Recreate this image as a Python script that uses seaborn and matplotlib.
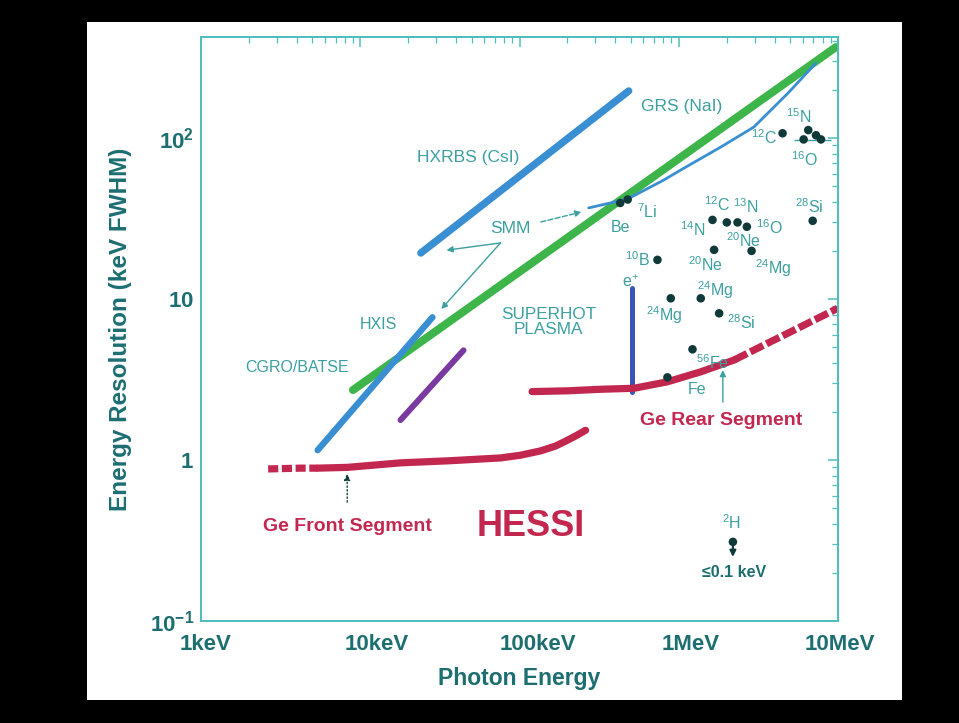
import matplotlib
matplotlib.use("Agg")
import matplotlib.pyplot as plt
from matplotlib.patches import Rectangle
from matplotlib.transforms import ScaledTranslation
import seaborn as sns
import pandas as pd

# ---------------- data (photon energy in keV, resolution in keV FWHM) ----------------
hxrbs_e = [24, 485]
hxrbs_r = [19.3, 196]
batse_e = [9.0, 9700]
batse_r = [2.72, 367]
hxis_e = [5.4, 28.4]
hxis_r = [1.15, 7.7]
purple_e = [17.9, 44.5]
purple_r = [1.77, 4.8]
grs_e = [272, 478, 805, 1030, 1837, 2964, 4850, 7270]
grs_r = [36.8, 41.8, 54.8, 63.3, 87.9, 117, 190, 292]
front_e = [2.64, 4.2, 5.4, 8.3, 17.9, 36.8, 76, 101, 136, 168, 195, 225, 260]
front_r = [0.88, 0.89, 0.89, 0.90, 0.96, 0.99, 1.03, 1.07, 1.14, 1.22, 1.31, 1.41, 1.53]
front_dash_end = 5.4
rear_e = [120, 200, 323, 524, 849, 1375, 2228, 3612, 5853, 9950]
rear_r = [2.66, 2.69, 2.75, 2.79, 3.06, 3.53, 4.18, 5.31, 6.73, 8.75]
rear_dash_start = 2228
annih_e = [511, 511]
annih_r = [2.64, 11.7]

nuc_e = [429, 478, 735, 891, 1375, 1793, 1220, 849, 1629, 2004, 2339, 2677,
         1667, 2866, 6934, 4487, 6505, 7275, 7816, 6085, 2188]
nuc_r = [39.5, 41.5, 17.5, 10.1, 10.1, 8.15, 4.87, 3.26, 31.0, 29.9, 29.9, 28.1,
         20.2, 19.9, 30.6, 107, 112, 104, 98, 98, 0.31]

nuc_labels = [r"$^{7}$Li", "Be", r"$^{10}$B", r"e$^{+}$", r"$^{14}$N", r"$^{12}$C",
              r"$^{13}$N", r"$^{16}$O", r"$^{20}$Ne", r"$^{20}$Ne", r"$^{24}$Mg",
              r"$^{24}$Mg", r"$^{24}$Mg", r"$^{28}$Si", r"$^{56}$Fe", "Fe",
              r"$^{28}$Si", r"$^{12}$C", r"$^{15}$N", r"$^{16}$O", r"$^{2}$H"]
nuc_lab_e = [638, 432, 552, 499, 1225, 1734, 2637, 3681, 2564, 1479, 3900,
             1684, 805, 2455, 1636, 1298, 6574, 3426, 5690, 6110, 2154]
nuc_lab_r = [34.7, 28.0, 17.5, 12.8, 26.8, 38.4, 37.2, 27.6, 23.2, 16.3, 15.6,
             11.4, 7.96, 7.1, 4.0, 2.76, 37.2, 101, 135, 72.9, 0.406]

x_ticks = [1, 10, 100, 1000, 10000]
x_ticklabels = ["1keV", "10keV", "100keV", "1MeV", "10MeV"]
x_label_shift_px = [5, 17, 18, 12, 2]
y_ticks = [0.1, 1, 10, 100]
y_ticklabels = [r"$\mathbf{10^{-1}}$", r"$\mathbf{1}$", r"$\mathbf{10}$", r"$\mathbf{10^{2}}$"]

# ---------------- style ----------------
sns.set_theme(style="white")
plt.rcParams["font.family"] = ["Liberation Sans", "DejaVu Sans"]
plt.rcParams["mathtext.fontset"] = "custom"
plt.rcParams["mathtext.rm"] = "Liberation Sans"
plt.rcParams["mathtext.it"] = "Liberation Sans:italic"
plt.rcParams["mathtext.bf"] = "Liberation Sans:bold"

SPINE = "#4dbdbd"
TEAL_DARK = "#1c6e70"
TEAL = "#3c9fa0"
BLUE = "#3a8fd3"
GREEN = "#3db54b"
PURPLE = "#7a3a9f"
RED = "#c2284f"
INDIGO = "#3b55b5"
DOT = "#103a3a"

fig = plt.figure(figsize=(9.59, 7.23), dpi=100, facecolor="black")
fig.patches.append(Rectangle((87 / 959, 1 - 700 / 723), (902 - 87) / 959, (700 - 22) / 723,
                             transform=fig.transFigure, facecolor="white",
                             edgecolor="none", zorder=-10))
ax = fig.add_axes([201 / 959, 1 - 621 / 723, (838 - 201) / 959, (621 - 37) / 723])
ax.set_zorder(5)
ax.set_facecolor("white")
ax.set_xscale("log")
ax.set_yscale("log")


def line(e, r, color, lw, **kw):
    df = pd.DataFrame({"e": e, "r": r})
    sns.lineplot(data=df, x="e", y="r", ax=ax, color=color, lw=lw, sort=False,
                 estimator=None, solid_capstyle="round", solid_joinstyle="round",
                 dash_capstyle="butt", **kw)


line(hxrbs_e, hxrbs_r, BLUE, 5.3)
line(batse_e, batse_r, GREEN, 5.8)
line(hxis_e, hxis_r, BLUE, 4.6)
line(purple_e, purple_r, PURPLE, 4.3)
line(grs_e, grs_r, BLUE, 2.0)
line(annih_e, annih_r, INDIGO, 3.6)

# Ge front segment: dashed low-energy part, solid above
fd = [(e, r) for e, r in zip(front_e, front_r) if e <= front_dash_end]
fs = [(e, r) for e, r in zip(front_e, front_r) if e >= front_dash_end]
line([p[0] for p in fd], [p[1] for p in fd], RED, 5.2, linestyle=(0, (1.4, 0.5)))
line([p[0] for p in fs], [p[1] for p in fs], RED, 5.2)
# Ge rear segment: solid, dashed at high energy
rs = [(e, r) for e, r in zip(rear_e, rear_r) if e <= rear_dash_start]
rd = [(e, r) for e, r in zip(rear_e, rear_r) if e >= rear_dash_start]
line([p[0] for p in rs], [p[1] for p in rs], RED, 5.2)
line([p[0] for p in rd], [p[1] for p in rd], RED, 5.2, linestyle=(0, (2.0, 0.5)))

sns.scatterplot(x=nuc_e, y=nuc_r, ax=ax, color=DOT, s=38, edgecolor="none", zorder=5)

ax.set_xlim(1, 10000)
ax.set_ylim(0.1, 424)

# ---------------- annotations ----------------
for t, x, y in zip(nuc_labels, nuc_lab_e, nuc_lab_r):
    ax.text(x, y, t, color=TEAL, fontsize=11.5, ha="center", va="center", zorder=6)

ax.text(22.8, 75.2, "HXRBS (CsI)", color=TEAL, fontsize=12.5, ha="left", va="center")
ax.text(577, 156, "GRS (NaI)", color=TEAL, fontsize=12.5, ha="left", va="center")
ax.text(87.8, 27.6, "SMM", color=TEAL, fontsize=12.5, ha="center", va="center")
ax.text(152, 7.2, "SUPERHOT\nPLASMA", color=TEAL, fontsize=12.3, ha="center",
        va="center", linespacing=1.05)
ax.text(13.0, 6.9, "HXIS", color=TEAL, fontsize=11.5, ha="center", va="center")
ax.text(4.02, 3.73, "CGRO/BATSE", color=TEAL, fontsize=11.5, ha="center", va="center")
ax.text(8.28, 0.389, "Ge Front Segment", color=RED, fontsize=14, fontweight="bold",
        ha="center", va="center")
ax.text(117, 0.384, "HESSI", color=RED, fontsize=26, fontweight="bold",
        ha="center", va="center")
ax.text(1837, 1.77, "Ge Rear Segment", color=RED, fontsize=14, fontweight="bold",
        ha="center", va="center")
ax.text(2218, 0.199, "\u22640.1 keV", color=TEAL_DARK, fontsize=11.5,
        fontweight="bold", ha="center", va="center")

arrow = dict(arrowstyle="-|>", color=TEAL, lw=1.0, mutation_scale=9, shrinkA=0, shrinkB=0)
ax.annotate("", xy=(34.8, 20.1), xytext=(76, 22.3), arrowprops=arrow)
ax.annotate("", xy=(32.3, 8.67), xytext=(76, 22.3), arrowprops=arrow)
ax.annotate("", xy=(245, 34.7), xytext=(136, 30.1), arrowprops=dict(arrow, linestyle="--"))
ax.annotate("", xy=(8.28, 0.82), xytext=(8.28, 0.548),
            arrowprops=dict(arrow, color=DOT, linestyle=":"))
ax.annotate("", xy=(1892, 3.62), xytext=(1892, 2.29), arrowprops=arrow)
ax.annotate("", xy=(2188, 0.25), xytext=(2188, 0.31),
            arrowprops=dict(arrow, color=DOT, lw=1.5))
ax.hlines(97, 5290, 9040, color=TEAL, lw=1.0)

# ---------------- axes styling ----------------
for s in ax.spines.values():
    s.set_color(SPINE)
    s.set_linewidth(1.4)
ax.tick_params(which="both", direction="in", top=True, right=True, color=SPINE,
               labelcolor=TEAL_DARK)
ax.tick_params(which="major", length=7, width=1.1)
ax.tick_params(which="minor", length=4, width=0.9)
ax.tick_params(axis="x", which="major", pad=9)
ax.tick_params(axis="y", which="major", pad=5)
ax.set_xticks(x_ticks)
ax.set_xticklabels(x_ticklabels, fontsize=16, fontweight="bold")
ax.set_yticks(y_ticks)
ax.set_yticklabels(y_ticklabels, fontsize=16)
for lab, dx in zip(ax.get_xticklabels(), x_label_shift_px):
    lab.set_transform(lab.get_transform() + ScaledTranslation(dx / 100, 0, fig.dpi_scale_trans))

ax.set_xlabel("Photon Energy", fontsize=16.5, fontweight="bold", color=TEAL_DARK)
ax.set_ylabel("Energy Resolution (keV FWHM)", fontsize=17.5, fontweight="bold",
              color=TEAL_DARK)
ax.xaxis.set_label_coords(0.5, -(667 - 621) / 584)
ax.yaxis.set_label_coords((132 - 201) / 637, 0.5)

fig.savefig("out.png", dpi=100, facecolor="black")
